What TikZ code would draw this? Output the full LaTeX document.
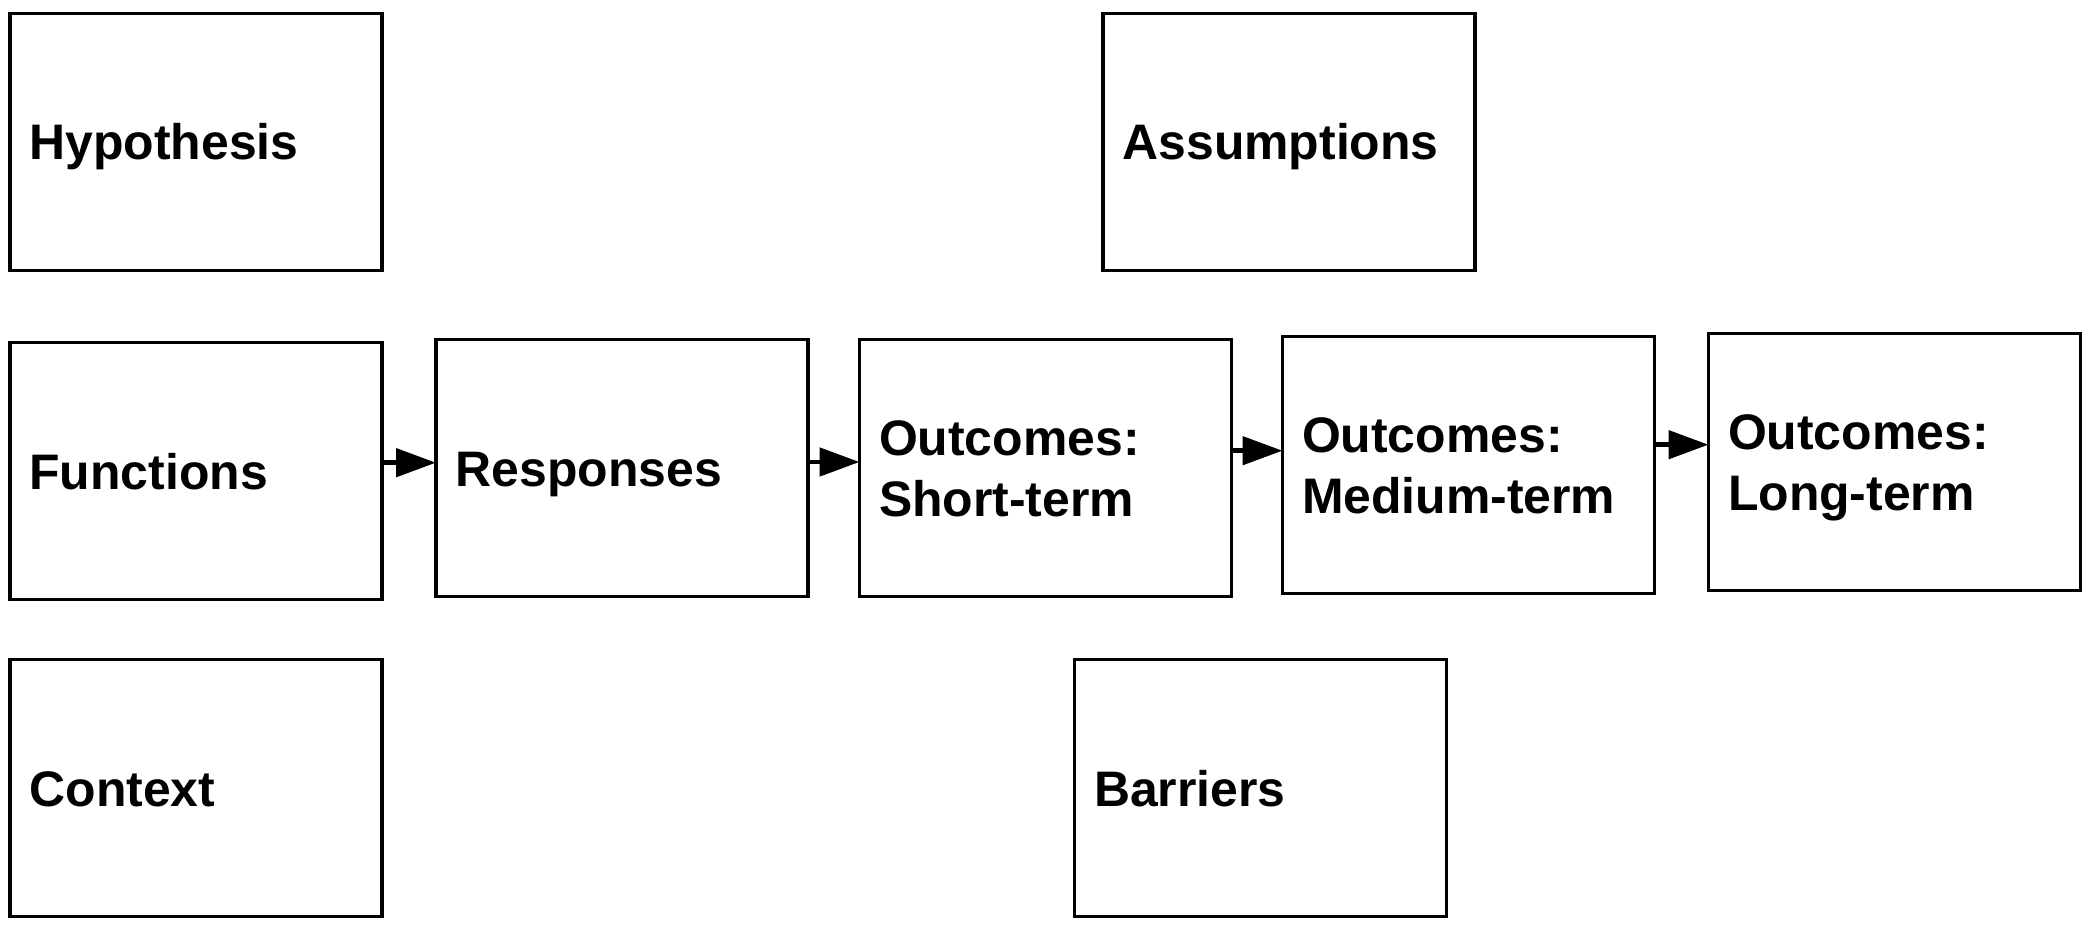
\documentclass[tikz,border=0pt]{standalone}
\usepackage{fontspec}
\setmainfont{Liberation Sans}
\usetikzlibrary{arrows.meta}

\tikzset{
	Box/.style = {draw, line width=0.95pt, rectangle, outer sep=0pt,
		minimum width=3.72cm, minimum height=2.57cm,
		text width=3.33cm, inner xsep=0.195cm, align=left,
		text height=10.3pt, text depth=0pt,
		font=\bfseries\fontsize{14.2}{17.2}\selectfont},
	TwoLine/.style = {Box, text depth=17.2pt},
	Flow/.style = {line width=1.4pt, -{Triangle[length=0.4cm,width=0.28cm]}}
}

\begin{document}
\begin{tikzpicture}
	\useasboundingbox (0,0) rectangle (20.92,-9.30);
		\node[Box] (hyp)   at (1.96 ,-1.417) {Hypothesis};
		\node[Box] (assum) at (12.89,-1.417) {Assumptions};
		\node[Box] (func)  at (1.96 ,-4.712) {Functions};
		\node[Box] (resp)  at (6.22 ,-4.682) {Responses};
		\node[TwoLine] (stm) at (10.455,-4.677) {Outcomes:\\Short-term};
		\node[TwoLine] (mtm) at (14.685,-4.648) {Outcomes:\\Medium-term};
		\node[TwoLine] (ltm) at (18.945,-4.618) {Outcomes:\\Long-term};
		\node[Box] (ctx)   at (1.96 ,-7.88) {Context};
		\node[Box] (barr)  at (12.605,-7.88) {Barriers};
	%	arrows sit a bit above the box centres
		\foreach \a/\b/\h in {func/resp/4.627, resp/stm/4.62, stm/mtm/4.507, mtm/ltm/4.447}
			\draw[Flow] (\a.east |- 0,-\h) -- (\b.west |- 0,-\h);
\end{tikzpicture}
\end{document}
